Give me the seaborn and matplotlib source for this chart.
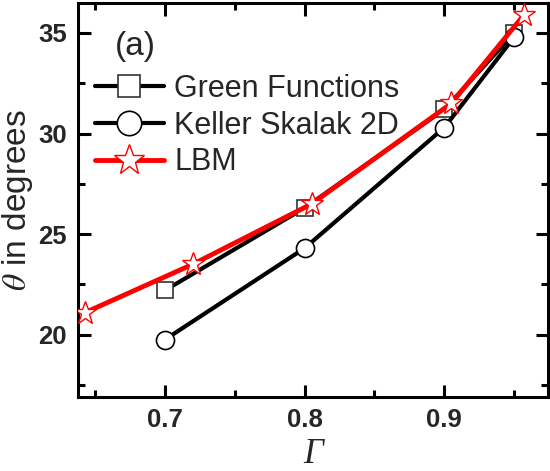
import numpy as np
import pandas as pd
import matplotlib
matplotlib.use("Agg")
import matplotlib.pyplot as plt
import seaborn as sns

# Data
green_x = [0.70, 0.80, 0.90, 0.95]
green_y = [22.2, 26.3, 31.2, 35.0]
keller_x = [0.70, 0.80, 0.90, 0.95]
keller_y = [19.75, 24.3, 30.3, 34.8]
lbm_x = [0.643, 0.72, 0.805, 0.905, 0.957]
lbm_y = [21.1, 23.5, 26.5, 31.5, 35.9]

sns.set_style("white")
plt.rcParams["font.family"] = ["Liberation Sans", "DejaVu Sans"]
plt.rcParams["mathtext.fontset"] = "stix"

fig = plt.figure(figsize=(5.5, 4.71), dpi=100)
ax = fig.add_axes([0.142, 0.157, 0.854, 0.837])

df_green = pd.DataFrame({"x": green_x, "y": green_y})
df_keller = pd.DataFrame({"x": keller_x, "y": keller_y})
df_lbm = pd.DataFrame({"x": lbm_x, "y": lbm_y})

sns.lineplot(data=df_green, x="x", y="y", ax=ax, color="black", linewidth=3,
             marker="s", markersize=12, markerfacecolor="white",
             markeredgecolor="#333333", markeredgewidth=1.2,
             label="Green Functions", zorder=2)
sns.lineplot(data=df_keller, x="x", y="y", ax=ax, color="black", linewidth=3,
             marker="o", markersize=13, markerfacecolor="white",
             markeredgecolor="black", markeredgewidth=1.2,
             label="Keller Skalak 2D", zorder=3)
sns.lineplot(data=df_lbm, x="x", y="y", ax=ax, color="red", linewidth=3.5,
             marker="*", markersize=17, markerfacecolor="white",
             markeredgecolor="red", markeredgewidth=1.0,
             label="LBM", zorder=4)

ax.set_xlim(0.638, 0.974)
ax.set_ylim(16.9, 36.5)
ax.set_xticks([0.7, 0.8, 0.9])
ax.set_xticks(np.arange(0.65, 0.975, 0.05), minor=True)
ax.set_yticks([20, 25, 30, 35])
ax.set_yticks(np.arange(17.5, 36.5, 2.5), minor=True)
ax.set_xticklabels(["0.7", "0.8", "0.9"])
ax.set_yticklabels(["20", "25", "30", "35"])

for s in ax.spines.values():
    s.set_linewidth(2.2)
    s.set_color("black")

ax.tick_params(which="both", direction="in", top=True, right=True,
               bottom=True, left=True, width=2.2, color="black")
ax.tick_params(which="major", length=9, pad=8, labelsize=18.5)
ax.tick_params(which="minor", length=5)
for lab in ax.get_xticklabels() + ax.get_yticklabels():
    lab.set_fontweight("bold")

ax.set_ylabel(r"$\theta$ in degrees", fontsize=24, labelpad=2)
ax.set_xlabel("Γ", fontsize=25, fontfamily="Liberation Serif",
              fontstyle="italic", labelpad=4)

ax.text(0.078, 0.89, "(a)", transform=ax.transAxes, fontsize=24,
        ha="left", va="center")

leg = ax.legend(loc="upper left", bbox_to_anchor=(0.036, 0.82),
                frameon=False, fontsize=22, borderaxespad=0, borderpad=0,
                handlelength=2.25, handletextpad=0.35, labelspacing=0.22,
                markerscale=1.35)

fig.savefig("out.png", dpi=100)
